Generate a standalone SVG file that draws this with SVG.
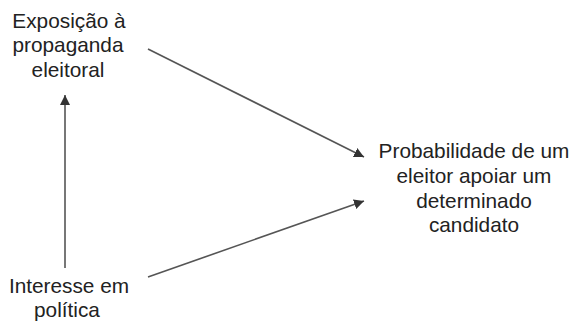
<svg xmlns="http://www.w3.org/2000/svg" width="575" height="322" viewBox="0 0 575 322">
<style>
text{font-family:"Liberation Sans",Arial,sans-serif;font-size:20.8px;fill:#222;text-anchor:middle}
.c{stroke:#555;stroke-width:1.6;fill:none}
</style>
<defs>
<marker id="ah" viewBox="0 0 10 10" refX="10" refY="5" markerWidth="10" markerHeight="10" markerUnits="userSpaceOnUse" orient="auto">
<path d="M0,0 L10,5 L0,10 z" fill="#333"/>
</marker>
</defs>
<rect width="575" height="322" fill="#fff"/>
<g id="exposicao">
<text x="69" y="28">Exposição à</text>
<text x="68" y="52">propaganda</text>
<text x="68" y="77">eleitoral</text>
</g>
<g id="probabilidade">
<text x="474" y="158">Probabilidade de um</text>
<text x="474" y="183">eleitor apoiar um</text>
<text x="474" y="208">determinado</text>
<text x="474" y="232">candidato</text>
</g>
<g id="interesse">
<text x="69" y="293">Interesse em</text>
<text x="67" y="317">política</text>
</g>
<g id="connectors">
<line class="c" x1="148" y1="49" x2="364" y2="157" marker-end="url(#ah)"/>
<line class="c" x1="148" y1="277" x2="364" y2="201" marker-end="url(#ah)"/>
<line class="c" x1="65" y1="268" x2="65" y2="95" marker-end="url(#ah)"/>
</g>
</svg>
